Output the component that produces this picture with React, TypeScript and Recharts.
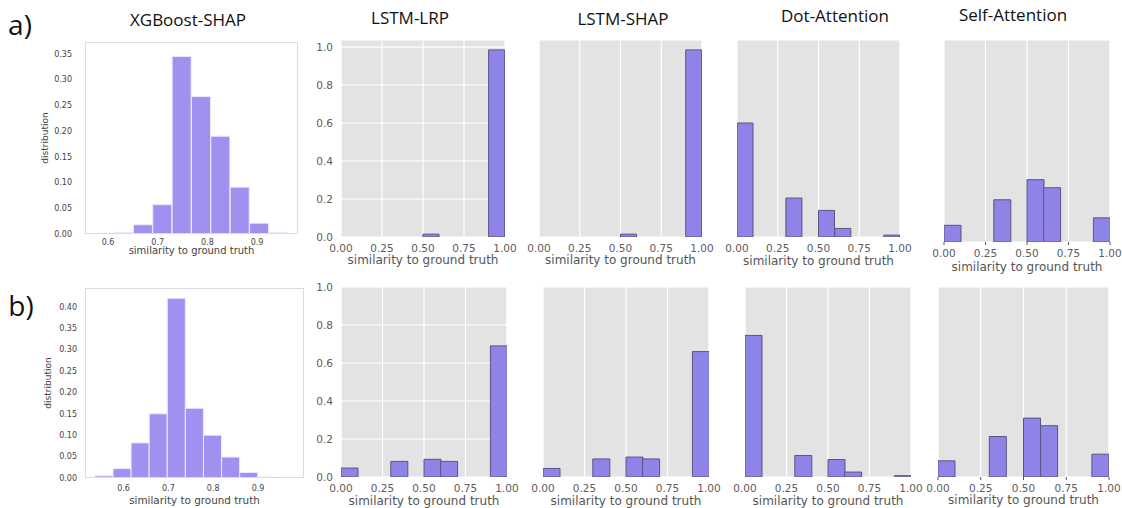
import React from "react";
import { BarChart, Bar, XAxis, YAxis, CartesianGrid, Label } from "recharts";

// bin centres (similarity to ground truth)
const SIM_BINS = [0.05, 0.15, 0.25, 0.35, 0.45, 0.55, 0.65, 0.75, 0.85, 0.95];
const XGB_A_BINS = [0.5925, 0.6315, 0.6705, 0.7095, 0.7485, 0.7875, 0.8265, 0.8655, 0.9045, 0.9435];
const XGB_B_BINS = [0.5562, 0.5966, 0.637, 0.6774, 0.7178, 0.7582, 0.7986, 0.839, 0.8794, 0.9198, 0.9602];

// share of samples per bin, row a
const XGB_A_SHARE = [0, 0.003, 0.018, 0.057, 0.345, 0.267, 0.19, 0.091, 0.021, 0.003];
const LRP_A_SHARE = [0, 0, 0, 0, 0, 0.015, 0, 0, 0, 0.985];
const SHAP_A_SHARE = [0, 0, 0, 0, 0, 0.015, 0, 0, 0, 0.985];
const DOT_A_SHARE = [0.6, 0, 0, 0.205, 0, 0.14, 0.045, 0, 0, 0.01];
const SELF_A_SHARE = [0.083, 0, 0, 0.21, 0, 0.31, 0.27, 0, 0, 0.12];

// row b
const XGB_B_SHARE = [0.005, 0.022, 0.082, 0.15, 0.42, 0.163, 0.1, 0.049, 0.013, 0.002, 0];
const LRP_B_SHARE = [0.047, 0, 0, 0.082, 0, 0.093, 0.082, 0, 0, 0.69];
const SHAP_B_SHARE = [0.045, 0, 0, 0.095, 0, 0.105, 0.095, 0, 0, 0.66];
const DOT_B_SHARE = [0.745, 0, 0, 0.113, 0, 0.092, 0.026, 0, 0, 0.007];
const SELF_B_SHARE = [0.085, 0, 0, 0.213, 0, 0.31, 0.27, 0, 0, 0.12];

const UNIT_TICKS = [0, 0.25, 0.5, 0.75, 1];
const FRACTION_TICKS = [0, 0.2, 0.4, 0.6, 0.8, 1];
const XGB_X_TICKS = [0.6, 0.7, 0.8, 0.9];
const XGB_A_Y_TICKS = [0, 0.05, 0.1, 0.15, 0.2, 0.25, 0.3, 0.35];
const XGB_B_Y_TICKS = [0, 0.05, 0.1, 0.15, 0.2, 0.25, 0.3, 0.35, 0.4];

const TITLES = ["XGBoost-SHAP", "LSTM-LRP", "LSTM-SHAP", "Dot-Attention", "Self-Attention"];
const X_LABEL = "similarity to ground truth";
const Y_LABEL = "distribution";

const MPL = "'DejaVu Sans', sans-serif";
const SANS = "'Open Sans', sans-serif";
const MT = 9;

type HistProps = {
  x: number;
  y: number;
  w: number;
  h: number;
  bins: number[];
  values: number[];
  xDomain: [number, number];
  yDomain: [number, number];
  xTicks: number[];
  yTicks: number[];
  xgb?: boolean;
  yLabels?: boolean;
  marks?: boolean;
  labelDy: number;
  labelFont?: number;
  yGap?: number;
  xTickSize?: number;
  yLabelX?: number;
};

function Histogram(p: HistProps) {
  const gg = !p.xgb;
  const yw = gg ? 36 : 50;
  const mr = 16;
  const xh = gg ? 36 : 30;
  const width = yw + p.w + mr;
  const height = MT + p.h + xh;
  const data = p.bins.map((b, i) => ({ bin: b, share: p.values[i] }));
  const tickFont = gg ? 10.5 : 8;
  const labelFont = p.labelFont ?? 12;
  const labelOffset = xh - (p.labelDy + 0.265 * labelFont);
  const tickColor = gg ? "#5c5c5c" : "#444";
  const xTickSize = p.xTickSize ?? (p.marks ? 3 : 6);
  const xTickMargin = gg ? 7.3 - xTickSize : 1;

  return (
    <div style={{ position: "absolute", left: p.x - yw, top: p.y - MT, width, height }}>
      <BarChart
        width={width}
        height={height}
        data={data}
        margin={{ top: MT, right: mr, left: 0, bottom: 0 }}
        barCategoryGap={0}
        barGap={0}
      >
        {gg && (
          <CartesianGrid fill="#e3e3e3" fillOpacity={1} stroke="#ffffff" strokeWidth={1.2} />
        )}
        <XAxis
          dataKey="bin"
          type="number"
          domain={p.xDomain}
          ticks={p.xTicks}
          allowDataOverflow
          interval={0}
          height={xh}
          axisLine={false}
          tickLine={p.marks ? { stroke: "#555" } : false}
          tickSize={xTickSize}
          tickMargin={xTickMargin}
          tick={{ fontSize: tickFont, fill: tickColor, fontFamily: MPL }}
          tickFormatter={(v: number) => (gg ? v.toFixed(2) : v.toFixed(1))}
        >
          <Label
            value={X_LABEL}
            position="insideBottom"
            offset={labelOffset}
            style={{ fontSize: labelFont, fill: gg ? "#555" : "#444", fontFamily: MPL }}
          />
        </XAxis>
        <YAxis
          type="number"
          domain={p.yDomain}
          ticks={p.yTicks}
          allowDataOverflow
          interval={0}
          width={yw}
          axisLine={false}
          tickLine={p.marks ? { stroke: "#555" } : false}
          tickSize={p.marks ? 3 : 6}
          tickMargin={p.yGap ?? 2}
          tick={p.yLabels ? { fontSize: tickFont, fill: tickColor, fontFamily: MPL } : false}
          tickFormatter={(v: number) => (gg ? v.toFixed(1) : v.toFixed(2))}
        >
          {!gg && (
            <Label
              value={Y_LABEL}
              angle={-90}
              position="insideLeft"
              offset={(p.yLabelX ?? 45) - (p.x - yw)}
              style={{ fontSize: 9, fill: "#444", fontFamily: MPL, textAnchor: "middle" }}
            />
          )}
        </YAxis>
        <Bar
          dataKey="share"
          fill={gg ? "#8e84e8" : "#9f91ef"}
          stroke={gg ? "#5a5580" : "#ece9fb"}
          strokeWidth={1}
          isAnimationActive={false}
        />
      </BarChart>
      {!gg && (
        <div
          style={{
            position: "absolute",
            left: yw,
            top: MT,
            width: p.w,
            height: p.h,
            border: "1px solid #dcdcdc",
            boxSizing: "border-box",
            pointerEvents: "none",
          }}
        />
      )}
    </div>
  );
}

function Title({ text, cx, cy, size = 17 }: { text: string; cx: number; cy: number; size?: number }) {
  return (
    <div
      style={{
        position: "absolute",
        left: cx,
        top: cy,
        transform: "translate(-50%, -50%)",
        fontFamily: SANS,
        fontSize: size,
        lineHeight: 1,
        whiteSpace: "nowrap",
        color: "#111",
      }}
    >
      {text}
    </div>
  );
}

export default function App() {
  return (
    <div
      style={{
        position: "absolute",
        left: 0,
        top: 0,
        width: 1122,
        height: 508,
        overflow: "hidden",
        background: "#fff",
      }}
    >
      <Title text="a)" cx={20} cy={24} size={28} />
      <Title text="b)" cx={21} cy={305} size={28} />
      <Title text={TITLES[0]} cx={188} cy={19} />
      <Title text={TITLES[1]} cx={410} cy={17} />
      <Title text={TITLES[2]} cx={623} cy={18} />
      <Title text={TITLES[3]} cx={835} cy={15} />
      <Title text={TITLES[4]} cx={1013} cy={14} />

      {/* row a */}
      <Histogram
        xgb
        x={85} y={42} w={213} h={192}
        bins={XGB_A_BINS} values={XGB_A_SHARE}
        xDomain={[0.5535, 0.9825]} yDomain={[0, 0.373]}
        xTicks={XGB_X_TICKS} yTicks={XGB_A_Y_TICKS}
        yLabels yGap={7} xTickSize={4} labelDy={17} labelFont={10} yLabelX={45}
      />
      <Histogram
        x={341} y={40} w={164} h={197}
        bins={SIM_BINS} values={LRP_A_SHARE}
        xDomain={[0, 1]} yDomain={[0, 1.037]}
        xTicks={UNIT_TICKS} yTicks={FRACTION_TICKS}
        yLabels labelDy={24}
      />
      <Histogram
        x={539} y={40} w={163} h={197}
        bins={SIM_BINS} values={SHAP_A_SHARE}
        xDomain={[0, 1]} yDomain={[0, 1.037]}
        xTicks={UNIT_TICKS} yTicks={FRACTION_TICKS}
        labelDy={24}
      />
      <Histogram
        x={737} y={40} w={163} h={197}
        bins={SIM_BINS} values={DOT_A_SHARE}
        xDomain={[0, 1]} yDomain={[0, 1.037]}
        xTicks={UNIT_TICKS} yTicks={FRACTION_TICKS}
        labelDy={25}
      />
      <Histogram
        x={944} y={40} w={166} h={202}
        bins={SIM_BINS} values={SELF_A_SHARE}
        xDomain={[0, 1]} yDomain={[0, 1.005]}
        xTicks={UNIT_TICKS} yTicks={FRACTION_TICKS}
        marks labelDy={26}
      />

      {/* row b */}
      <Histogram
        xgb
        x={85} y={288} w={219} h={190}
        bins={XGB_B_BINS} values={XGB_B_SHARE}
        xDomain={[0.514, 1.0026]} yDomain={[0, 0.444]}
        xTicks={XGB_X_TICKS} yTicks={XGB_B_Y_TICKS}
        yLabels yGap={2} xTickSize={6} labelDy={23} labelFont={10.4} yLabelX={48}
      />
      <Histogram
        x={341} y={287} w={166} h={190}
        bins={SIM_BINS} values={LRP_B_SHARE}
        xDomain={[0, 1]} yDomain={[0, 1]}
        xTicks={UNIT_TICKS} yTicks={FRACTION_TICKS}
        yLabels labelDy={25}
      />
      <Histogram
        x={543} y={287} w={166} h={190}
        bins={SIM_BINS} values={SHAP_B_SHARE}
        xDomain={[0, 1]} yDomain={[0, 1]}
        xTicks={UNIT_TICKS} yTicks={FRACTION_TICKS}
        labelDy={25}
      />
      <Histogram
        x={745} y={287} w={166} h={190}
        bins={SIM_BINS} values={DOT_B_SHARE}
        xDomain={[0, 1]} yDomain={[0, 1]}
        xTicks={UNIT_TICKS} yTicks={FRACTION_TICKS}
        labelDy={25}
      />
      <Histogram
        x={938} y={287} w={171} h={190}
        bins={SIM_BINS} values={SELF_B_SHARE}
        xDomain={[0, 1]} yDomain={[0, 1]}
        xTicks={UNIT_TICKS} yTicks={FRACTION_TICKS}
        marks labelDy={24}
      />
    </div>
  );
}
